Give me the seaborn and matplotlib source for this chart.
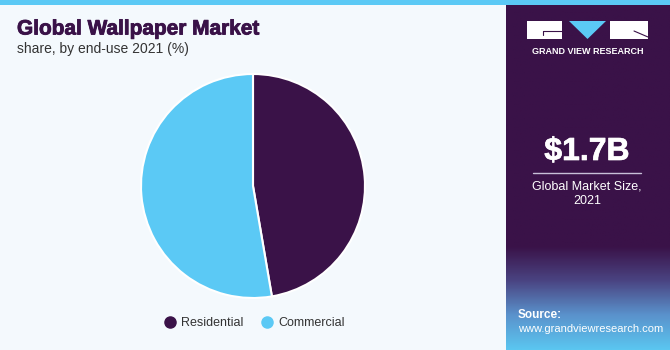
import numpy as np
import matplotlib
matplotlib.use("Agg")
import matplotlib.pyplot as plt
from matplotlib.lines import Line2D
from matplotlib.patches import Rectangle, Polygon
from matplotlib.colors import LinearSegmentedColormap
import matplotlib.patheffects as pe
import seaborn as sns

# Data
categories = ["Residential", "Commercial"]
shares = [47.3, 52.7]
colors = ["#3A1248", "#5BC9F5"]
title = "Global Wallpaper Market"
subtitle = "share, by end-use 2021 (%)"
market_size = "$1.7B"
market_label = "Global Market Size,\n2021"

sns.set_style("white")
plt.rcParams['font.family'] = ['Liberation Sans', 'DejaVu Sans']

W, H = 670, 350
BG = "#F4F9FD"
PURPLE = "#3A1248"
fig = plt.figure(figsize=(W / 100, H / 100), dpi=100, facecolor=BG)

def fx(x): return x / W
def fy(y): return 1 - y / H

# Top bar
fig.patches.append(Rectangle((0, fy(5)), 1, 5 / H, transform=fig.transFigure,
                             facecolor="#5BC9F5", edgecolor="none", zorder=0))

# Right panel with gradient
pax = fig.add_axes([fx(506), 0, 1 - fx(506), fy(5)])
pax.set_axis_off()
n = 300
grad = np.zeros((n, 1))
ys = np.linspace(0, 1, n)  # 0 top, 1 bottom
grad[:, 0] = np.clip((ys - 0.70) / 0.30, 0, 1)
cmap = LinearSegmentedColormap.from_list("p", [PURPLE, "#4A4482", "#5A92CC", "#5BC6F0"])
pax.imshow(grad, aspect="auto", cmap=cmap, extent=[0, 1, 0, 1], origin="upper")
pax.set_xlim(0, 1)
pax.set_ylim(0, 1)

# Logo
def rect(x0, y0, x1, y1, fc):
    fig.patches.append(Rectangle((fx(x0), fy(y1)), fx(x1) - fx(x0), (y1 - y0) / H,
                                 transform=fig.transFigure, facecolor=fc,
                                 edgecolor="none", zorder=5))
rect(527, 21, 562, 39, "white")
rect(610, 21, 648, 39, "white")
fig.patches.append(Polygon([(fx(569), fy(21)), (fx(606), fy(21)), (fx(587.5), fy(39))],
                           closed=True, transform=fig.transFigure,
                           facecolor="#5BC9F5", edgecolor="none", zorder=5))
fig.lines.append(Line2D([fx(543), fx(562)], [fy(31), fy(31)], transform=fig.transFigure,
                        color=PURPLE, lw=0.8, zorder=6))
fig.lines.append(Line2D([fx(543), fx(543)], [fy(31), fy(35)], transform=fig.transFigure,
                        color=PURPLE, lw=0.8, zorder=6))
fig.lines.append(Line2D([fx(634), fx(648)], [fy(31), fy(37)], transform=fig.transFigure,
                        color=PURPLE, lw=0.8, zorder=6))
fig.text(fx(587.5), fy(51), "GRAND VIEW RESEARCH", color="white", fontsize=6.5,
         fontweight="bold", ha="center", va="center")

# Market size
fig.text(fx(587), fy(152), market_size, color="white", fontsize=23,
         fontweight="bold", ha="center", va="center",
         path_effects=[pe.withStroke(linewidth=0.5, foreground="white")])
fig.lines.append(Line2D([fx(533), fx(641)], [fy(173), fy(173)], transform=fig.transFigure,
                        color="#C8C0D8", lw=1))
fig.text(fx(587), fy(194), market_label, color="white", fontsize=9,
         ha="center", va="center", linespacing=1.25)

# Source
fig.text(fx(518), fy(315), "Source:", color="white", fontsize=8.5,
         fontweight="bold", ha="left", va="center")
fig.text(fx(518), fy(329), "www.grandviewresearch.com", color="white", fontsize=8,
         ha="left", va="center")

# Titles
fig.text(fx(17), fy(29), title, color=PURPLE, fontsize=15, fontweight="bold",
         ha="left", va="center",
         path_effects=[pe.withStroke(linewidth=0.6, foreground=PURPLE)])
fig.text(fx(17), fy(49), subtitle, color="#333333", fontsize=10,
         ha="left", va="center")

# Pie
cx, cy, r = 253, 186, 112
ax = fig.add_axes([fx(cx - r), fy(cy + r), 2 * r / W, 2 * r / H])
ax.pie(shares, colors=colors, startangle=90, counterclock=False,
       wedgeprops=dict(edgecolor="white", linewidth=1.5), radius=1)
ax.set_xlim(-1, 1)
ax.set_ylim(-1, 1)
ax.set_aspect("auto")
ax.set_axis_off()

# Legend
handles = [Line2D([0], [0], marker="o", linestyle="none", markersize=8,
                  markerfacecolor=c, markeredgecolor=c) for c in colors]
fig.legend(handles, categories, loc="center", bbox_to_anchor=(fx(254), fy(323)),
           ncol=2, frameon=False, fontsize=9, handletextpad=0.4, columnspacing=1.4,
           handlelength=1.0, labelcolor="#333333")

fig.savefig("out.png", dpi=100, facecolor=BG)
